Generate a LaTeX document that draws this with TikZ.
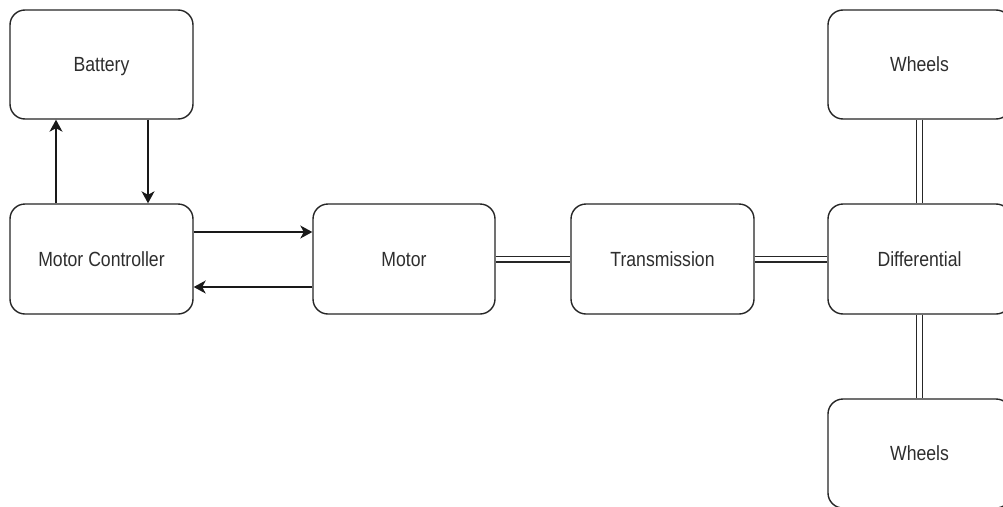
\documentclass[tikz,border=0pt]{standalone}
\usepackage{fontspec}
\setmainfont[FakeStretch=0.86]{Liberation Sans}
\usetikzlibrary{arrows.meta}
\begin{document}
\begin{tikzpicture}[x=1pt,y=-1pt,
  blk/.style={draw=black!85, line width=1.4pt, rounded corners=15pt,
    minimum width=183pt, minimum height=109pt, inner sep=0pt,
    text height=18pt, text depth=4pt,
    font=\fontsize{20.5}{24}\selectfont, text=black!82},
  arr/.style={draw=black!90, line width=1.4pt, -{Stealth[length=12pt,width=13pt,inset=3.5pt]}},
  shaft/.style={draw=black!85, line width=1.2pt, double=white, double distance=4.6pt}]
\clip (0,0) rectangle (1003,506);
\fill[white] (0,0) rectangle (1003,506);
\node[blk] (bat) at (101.5,64.5) {Battery};
\node[blk, minimum height=110pt] (mc) at (101.5,259) {Motor Controller};
\node[blk, minimum height=110pt, minimum width=182pt] (mot) at (404,259) {Motor};
\node[blk, minimum height=110pt] (tr) at (662.5,259) {Transmission};
\node[blk, minimum height=110pt] (dif) at (919.5,259) {Differential};
\node[blk] (wt) at (919.5,64.5) {Wheels};
\node[blk] (wb) at (919.5,453.5) {Wheels};
\draw[arr] ([xshift=46.5pt]bat.south) -- ([xshift=46.5pt]mc.north);
\draw[arr] ([xshift=-45.5pt]mc.north) -- ([xshift=-45.5pt]bat.south);
\draw[arr] ([yshift=27pt]mc.east) -- ([yshift=27pt]mot.west);
\draw[arr] ([yshift=-28pt]mot.west) -- ([yshift=-28pt]mc.east);
\draw[shaft] (mot.east) -- (tr.west);
\draw[shaft] (tr.east) -- (dif.west);
\draw[shaft] (wt.south) -- (dif.north);
\draw[shaft] (dif.south) -- (wb.north);
\end{tikzpicture}
\end{document}
